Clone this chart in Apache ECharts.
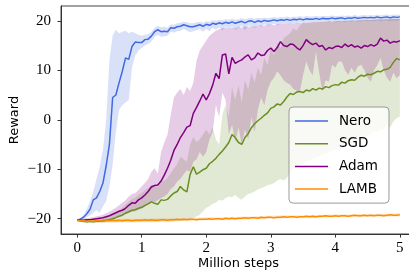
<!DOCTYPE html>
<html>
<head>
<meta charset="utf-8">
<script src="https://cdn.jsdelivr.net/npm/echarts@6/dist/echarts.min.js"></script>
<style>
  html, body { margin: 0; padding: 0; background: #fff; }
  #chart { width: 409px; height: 272px; }
</style>
</head>
<body>
<div id="chart"></div>
<script>
// samples every 0.05 million steps, 0 .. 5
var stepSize = 0.05;
var names = ['Nero', 'SGD', 'Adam', 'LAMB'];
var xTicks = [0, 1, 2, 3, 4, 5];
var yTicks = [-20, -10, 0, 10, 20];

var neroMean = [
  -20.3,-20.1,-19.7,-19.0,-18.1,-16.2,-15.8,-14.5,-12.8,-9.3,
  -5.0,4.5,5.0,7.5,9.8,12.5,12.2,14.8,15.7,15.6,
  15.6,16.2,16.3,16.9,17.8,18.2,17.8,17.9,17.8,18.6,
  18.5,18.8,18.9,19.2,19.0,18.8,18.8,19.0,19.2,18.9,
  19.3,19.1,19.5,19.3,19.6,19.4,19.7,19.5,19.8,19.5,
  19.7,19.9,19.6,19.9,20.0,19.7,20.0,19.8,20.1,19.9,
  20.0,20.2,20.0,20.2,20.1,20.3,20.1,20.3,20.2,20.4,
  20.2,20.4,20.3,20.3,20.5,20.3,20.5,20.4,20.4,20.6,
  20.4,20.5,20.6,20.4,20.6,20.5,20.7,20.5,20.6,20.7,
  20.6,20.7,20.6,20.8,20.6,20.7,20.8,20.6,20.8,20.7,
  20.8
];
var neroLow = [
  -20.5,-20.4,-20.1,-19.7,-19.3,-18.8,-18.3,-18.8,-17.5,-16.5,
  -13.5,-9.0,-2.5,2.0,3.0,3.5,4.0,10.5,13.0,14.0,
  14.5,15.0,15.3,15.8,16.8,17.2,16.8,16.9,17.0,17.8,
  17.6,17.9,18.0,18.4,18.0,17.7,17.9,18.1,18.3,17.8,
  18.4,17.9,18.6,18.2,18.7,18.0,18.8,18.3,18.9,18.2,
  18.6,19.0,18.1,18.9,19.1,18.5,19.1,18.8,19.3,19.0,
  19.2,19.4,19.1,19.4,19.3,19.5,19.3,19.6,19.4,19.7,
  19.5,19.7,19.6,19.6,19.8,19.6,19.8,19.7,19.7,19.9,
  19.7,19.8,19.9,19.7,19.9,19.8,20.0,19.8,19.9,20.0,
  19.9,20.0,19.9,20.1,19.9,20.0,20.1,19.9,20.1,20.0,
  20.1
];
var neroHigh = [
  -20.1,-19.8,-19.2,-18.0,-16.5,-14.5,-12.0,-9.5,-6.0,0.0,
  12.0,17.0,18.2,17.5,17.8,18.0,17.5,17.8,17.5,17.2,
  17.0,17.2,17.3,17.8,18.6,19.0,18.7,18.8,18.6,19.3,
  19.2,19.5,19.6,19.8,19.7,19.5,19.5,19.7,19.8,19.6,
  19.9,19.8,20.1,20.0,20.2,20.1,20.3,20.2,20.4,20.2,
  20.3,20.5,20.3,20.5,20.6,20.4,20.6,20.5,20.7,20.5,
  20.6,20.8,20.6,20.8,20.7,20.9,20.7,20.9,20.8,21.0,
  20.8,21.0,20.9,20.9,21.0,20.9,21.0,21.0,21.0,21.1,
  21.0,21.0,21.1,21.0,21.1,21.0,21.2,21.0,21.1,21.2,
  21.1,21.2,21.1,21.3,21.1,21.2,21.3,21.1,21.3,21.2,
  21.3
];

var sgdMean = [
  -20.3,-20.4,-20.5,-20.6,-20.5,-20.6,-20.5,-20.5,-20.4,-20.3,
  -20.2,-20.0,-19.8,-19.5,-19.3,-18.9,-18.6,-18.3,-18.2,-17.9,
  -17.7,-17.3,-17.0,-16.6,-16.9,-17.1,-16.2,-16.3,-16.1,-15.4,
  -14.8,-14.5,-13.5,-14.2,-14.6,-11.1,-9.5,-11.0,-10.6,-10.1,
  -9.8,-8.9,-8.4,-7.8,-7.0,-6.3,-5.5,-4.6,-3.0,-3.6,
  -4.6,-5.0,-3.6,-2.8,-1.6,-0.8,-0.2,0.3,0.9,1.4,
  2.3,2.6,3.2,3.0,3.7,4.6,5.3,5.1,5.6,5.7,
  5.5,6.0,5.8,6.3,6.0,6.4,6.2,6.7,6.5,6.9,
  7.1,7.0,7.6,7.4,7.9,8.1,8.0,8.6,9.0,8.8,
  9.2,9.1,9.4,9.8,9.7,10.1,10.2,10.6,11.6,12.4,
  12.1
];
var sgdLow = [
  -20.5,-20.7,-20.8,-20.9,-20.9,-20.9,-20.9,-20.9,-20.9,-20.8,
  -20.8,-20.8,-20.8,-20.8,-20.8,-20.8,-20.8,-20.8,-20.8,-20.7,
  -20.7,-20.7,-20.7,-20.7,-20.7,-20.7,-20.6,-20.6,-20.6,-20.6,
  -20.5,-20.5,-20.4,-20.3,-20.2,-20.0,-19.8,-19.5,-19.2,-18.5,
  -17.8,-17.5,-17.0,-16.8,-16.2,-16.4,-15.8,-15.5,-15.6,-15.2,
  -15.8,-16.2,-15.5,-15.0,-14.8,-14.5,-14.1,-13.8,-13.6,-13.2,
  -13.1,-12.8,-12.3,-12.0,-12.3,-11.8,-10.5,-10.0,-9.5,-9.2,
  -9.0,-8.5,-8.2,-8.0,-7.6,-7.5,-7.0,-6.8,-6.5,-6.2,
  -6.0,-5.8,-5.5,-5.3,-5.0,-4.8,-4.5,-4.3,-4.0,-3.6,
  -3.3,-2.8,-2.2,-2.5,-1.8,-2.0,-1.0,-1.5,-0.3,0.3,
  0.7
];
var sgdHigh = [
  -20.1,-20.2,-20.3,-20.3,-20.2,-20.2,-20.1,-20.0,-19.9,-19.7,
  -19.5,-19.2,-18.8,-18.3,-17.8,-17.2,-16.6,-16.0,-15.7,-15.2,
  -14.8,-14.3,-13.8,-13.2,-13.5,-13.6,-12.5,-12.3,-11.8,-10.8,
  -9.8,-9.0,-7.5,-8.0,-8.5,-5.0,-3.5,-4.5,-4.0,-3.0,
  -2.0,-3.0,-1.5,-4.0,-5.0,1.0,3.0,0.5,6.5,4.0,
  7.0,3.5,8.0,6.0,9.5,7.5,10.5,9.0,12.5,11.0,
  14.5,13.0,15.5,14.5,16.5,17.0,17.5,18.5,18.0,19.0,
  19.6,19.5,19.6,19.6,19.7,19.7,19.8,19.7,19.8,19.9,
  19.8,19.9,20.0,19.9,20.0,20.0,20.1,20.0,20.1,20.1,
  20.2,20.1,20.2,20.2,20.3,20.2,20.3,20.3,20.3,20.4,
  20.3
];

var adamMean = [
  -20.3,-20.3,-20.3,-20.2,-20.2,-20.1,-20.0,-19.9,-19.8,-19.6,
  -19.4,-19.1,-18.8,-18.5,-18.3,-17.9,-17.3,-16.8,-16.9,-16.2,
  -15.8,-15.2,-14.5,-13.6,-13.3,-13.2,-12.4,-11.2,-9.8,-8.2,
  -6.2,-5.0,-3.6,-2.6,-1.5,-1.2,1.3,2.5,3.8,5.2,
  4.0,5.3,7.0,9.4,8.3,13.1,13.3,9.3,12.6,11.4,
  11.8,12.1,12.7,13.1,12.1,12.5,13.5,13.0,13.1,14.0,
  14.5,13.8,14.6,15.8,15.0,14.8,15.3,15.2,14.6,14.1,
  15.0,16.2,15.6,15.2,15.5,14.8,15.0,14.1,14.6,14.4,
  14.8,14.9,14.6,15.3,14.8,15.2,14.7,14.9,14.5,15.0,
  14.8,15.2,14.9,15.3,16.5,15.9,16.1,15.5,15.8,15.7,
  16.0
];
var adamLow = [
  -20.5,-20.5,-20.5,-20.5,-20.5,-20.4,-20.4,-20.3,-20.3,-20.2,
  -20.1,-19.9,-19.7,-19.5,-19.3,-19.0,-18.8,-18.6,-18.5,-18.2,
  -18.0,-17.6,-17.2,-16.8,-16.7,-16.3,-15.8,-15.5,-15.0,-14.0,
  -13.5,-12.5,-12.0,-11.0,-10.2,-10.5,-8.5,-8.0,-6.5,-7.5,
  -6.5,-4.0,-2.5,3.0,0.5,5.5,4.0,-3.0,-1.0,-4.5,
  -1.5,-5.0,-2.0,-4.0,0.5,-2.5,2.0,4.5,3.0,6.0,
  7.7,8.5,9.8,9.0,8.0,7.5,7.1,6.2,5.9,5.7,
  9.0,11.8,10.0,9.0,13.8,9.5,5.7,8.0,7.7,11.1,
  10.5,11.8,11.8,10.0,9.1,10.5,9.5,10.8,11.1,10.0,
  8.5,7.7,10.0,11.0,12.5,10.0,8.5,7.7,9.5,8.4,
  9.0
];
var adamHigh = [
  -20.1,-20.1,-20.0,-19.9,-19.8,-19.7,-19.5,-19.4,-19.2,-18.9,
  -18.6,-18.2,-17.8,-17.3,-16.8,-16.3,-15.5,-15.0,-14.8,-14.2,
  -13.5,-12.8,-12.0,-10.5,-9.8,-10.9,-6.5,-4.6,-3.0,1.0,
  4.5,5.5,6.2,5.0,6.6,5.8,7.5,12.0,14.0,15.0,
  16.0,17.0,17.5,18.0,18.3,18.5,18.6,18.4,18.7,18.5,
  18.8,18.6,18.9,18.7,19.0,18.8,19.0,19.1,19.0,19.2,
  19.3,19.1,19.3,19.4,19.3,19.5,19.4,19.5,19.5,19.6,
  19.5,19.7,19.6,19.7,19.8,19.7,19.8,19.8,19.9,19.8,
  19.9,20.0,19.9,20.0,20.0,20.1,20.0,20.1,20.1,20.2,
  20.1,20.2,20.2,20.3,20.2,20.3,20.3,20.3,20.4,20.3,
  20.4
];

var lambMean = [
  -20.3,-20.4,-20.4,-20.5,-20.4,-20.5,-20.4,-20.4,-20.5,-20.4,
  -20.4,-20.3,-20.4,-20.3,-20.4,-20.3,-20.3,-20.4,-20.3,-20.3,
  -20.3,-20.2,-20.3,-20.2,-20.3,-20.3,-20.2,-20.2,-20.3,-20.2,
  -20.2,-20.1,-20.2,-20.1,-20.2,-20.1,-20.1,-20.2,-20.1,-20.1,
  -20.1,-20.0,-20.1,-20.0,-20.0,-20.1,-19.9,-20.0,-19.9,-20.0,
  -19.9,-19.9,-19.8,-19.9,-19.8,-19.8,-19.9,-19.7,-19.8,-19.7,
  -19.7,-19.8,-19.7,-19.7,-19.6,-19.7,-19.6,-19.6,-19.7,-19.6,
  -19.6,-19.5,-19.6,-19.5,-19.6,-19.5,-19.5,-19.4,-19.5,-19.5,
  -19.4,-19.5,-19.4,-19.4,-19.5,-19.4,-19.3,-19.4,-19.4,-19.3,
  -19.4,-19.3,-19.4,-19.3,-19.3,-19.4,-19.3,-19.2,-19.3,-19.3,
  -19.2
];
// lamb band is sampled every 0.25
var lambStep = 0.25;
var lambLow = [-20.6,-20.7,-20.7,-20.6,-20.6,-20.5,-20.5,-20.4,-20.3,-20.3,-20.2,
               -20.1,-20.0,-19.9,-19.9,-19.8,-19.7,-19.7,-19.6,-19.6,-19.5];
var lambHigh = [-20.0,-20.1,-20.1,-20.0,-20.0,-19.9,-19.9,-19.8,-19.7,-19.7,-19.6,
                -19.5,-19.4,-19.3,-19.3,-19.2,-19.1,-19.1,-19.0,-19.0,-18.9];

var colors = ['#4169e1', '#6b8e23', '#800080', '#ff8c00'];
var fills = ['rgba(65,105,225,0.2)', 'rgba(107,142,35,0.2)', 'rgba(128,0,128,0.2)', 'rgba(255,140,0,0.2)'];

var chart = echarts.init(document.getElementById('chart'));

function pairs(values, dx) {
    return values.map(function (v, i) {
        return [Math.round(i * dx * 100) / 100, v];
    });
}

function band(low, high, dx, fill) {
    var rows = low.map(function (v, i) {
        return [Math.round(i * dx * 100) / 100, v, high[i]];
    });
    return {
        type: 'custom',
        silent: true,
        z: 1,
        encode: {x: 0, y: [1, 2]},
        data: rows,
        renderItem: function (params, api) {
            if (params.dataIndex !== 0) return;
            var pts = [];
            for (var i = 0; i < rows.length; i++) pts.push(api.coord([rows[i][0], rows[i][2]]));
            for (var j = rows.length - 1; j >= 0; j--) pts.push(api.coord([rows[j][0], rows[j][1]]));
            return {type: 'polygon', shape: {points: pts}, style: {fill: fill, stroke: null}};
        }
    };
}

function line(name, values, color) {
    return {
        name: name,
        type: 'line',
        z: 3,
        symbol: 'none',
        data: pairs(values, stepSize),
        lineStyle: {color: color, width: 1.5},
        itemStyle: {color: color}
    };
}

function minus(v) {
    return v < 0 ? '\u2212' + Math.abs(v) : String(v);
}

var tickFont = {fontFamily: 'Liberation Serif', fontSize: 15, color: '#000'};

var option = {
    animation: false,
    grid: {
        left: 61, top: 6, right: -7, bottom: 38,
        outerBoundsMode: 'none', containLabel: false,
        show: true, borderColor: '#444', borderWidth: 1
    },
    xAxis: {
        type: 'value', min: -0.25, max: 5.25,
        name: 'Million steps', nameLocation: 'middle', nameGap: 23.5, nameMoveOverlap: false,
        nameTextStyle: {fontFamily: 'DejaVu Sans', fontSize: 13, color: '#000'},
        axisLine: {onZero: false, lineStyle: {color: '#333', width: 1}},
        axisTick: {length: 3.5, customValues: xTicks, lineStyle: {color: '#333'}},
        axisLabel: Object.assign({margin: 7, customValues: xTicks, formatter: minus}, tickFont),
        splitLine: {show: false}
    },
    yAxis: {
        type: 'value', min: -23.1, max: 23.0,
        name: 'Reward', nameLocation: 'middle', nameGap: 39.5, nameMoveOverlap: false,
        nameTextStyle: {fontFamily: 'DejaVu Sans', fontSize: 13, color: '#000'},
        axisLine: {show: true, onZero: false, lineStyle: {color: '#333', width: 1}},
        axisTick: {show: true, length: 3.5, customValues: yTicks, lineStyle: {color: '#333'}},
        axisLabel: Object.assign({margin: 10, customValues: yTicks, formatter: minus}, tickFont),
        splitLine: {show: false}
    },
    legend: {
        data: names.map(function (n) { return {name: n, icon: 'rect'}; }),
        orient: 'vertical',
        left: 289, top: 107,
        itemWidth: 33, itemHeight: 1.5, itemGap: 8.7,
        padding: [7, 11, 7, 6],
        backgroundColor: 'rgba(255,255,255,0.8)',
        borderColor: '#999', borderWidth: 1, borderRadius: 4,
        textStyle: {fontFamily: 'DejaVu Sans', fontSize: 13.5, color: '#000', lineHeight: 14, padding: [0, 0, 0, 6]}
    },
    series: [
        band(neroLow, neroHigh, stepSize, fills[0]),
        band(sgdLow, sgdHigh, stepSize, fills[1]),
        band(adamLow, adamHigh, stepSize, fills[2]),
        band(lambLow, lambHigh, lambStep, fills[3]),
        line(names[0], neroMean, colors[0]),
        line(names[1], sgdMean, colors[1]),
        line(names[2], adamMean, colors[2]),
        line(names[3], lambMean, colors[3])
    ]
};

chart.setOption(option);
</script>
</body>
</html>
